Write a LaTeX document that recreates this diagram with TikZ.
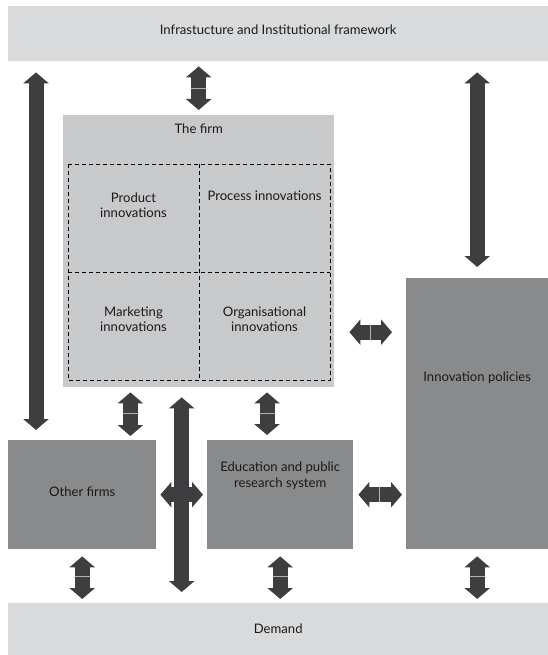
\documentclass[tikz,border=0pt]{standalone}
\usepackage{fontspec}
\setmainfont{Lato}
\usetikzlibrary{positioning,calc,arrows.meta,decorations.markings}
\definecolor{c_frame}{RGB}{217,218,220}
\definecolor{c_firm}{RGB}{200,201,203}
\definecolor{c_actor}{RGB}{137,138,140}
\definecolor{c_arrow}{RGB}{62,62,64}
\tikzset{frame-bar/.style={rectangle, minimum width=540pt, minimum height=55pt, inner sep=0pt, anchor=north west, fill=c_frame},
firm-box/.style={rectangle, minimum width=271pt, minimum height=272pt, inner sep=0pt, anchor=north west, fill=c_firm},
cell-box/.style={rectangle, minimum width=131pt, minimum height=108pt, inner sep=0pt, outer sep=0pt},
cell-line/.style={draw=black, line width=0.9pt, dash pattern=on 4pt off 3pt},
actor-box/.style={rectangle, inner sep=0pt, anchor=north west, fill=c_actor},
label-text/.style={align=center, inner sep=0pt, text=black!90, font=\fontsize{13.1}{15.5}\selectfont},
block-arrow/.style={line width=15pt, draw=c_arrow, {Triangle[width=25pt,length=11pt]}-{Triangle[width=25pt,length=11pt]}},
seam/.style={postaction={decorate, decoration={markings, mark=at position 0.5 with {\draw[-, line width=0.5pt, draw=gray!60, shorten <=0pt, shorten >=0pt] (0pt,-7.5pt) -- (0pt,7.5pt);}}}}}

\begin{document}
\begin{tikzpicture}[x=1pt, y=-1pt]
\useasboundingbox (0,0) rectangle (548,655);
% outer frame
\node (infra) [frame-bar] at (8,6) {};
\node (infratext) [label-text] at ([yshift=4pt]infra.center) {Infrastucture and Institutional framework};
\node (demand) [frame-bar, minimum height=52pt] at (8,603) {};
\node (demandtext) [label-text] at (demand.center) {Demand};
% the firm
\node (firm) [firm-box] at (63,115) {};
\node (firmtitle) [label-text, below=9pt of firm.north] {The firm};
\node (prod) [cell-box, anchor=north west] at (68,164) {};
\node (proc) [cell-box, right=0pt of prod] {};
\node (mark) [cell-box, below=0pt of prod] {};
\node (orga) [cell-box, right=0pt of mark] {};
\draw [cell-line] (prod.north west) rectangle (orga.south east);
\draw [cell-line] (proc.north west) -- (orga.south west);
\draw [cell-line] (mark.north west) -- (orga.north east);
\node (prodtext) [label-text] at ([yshift=13pt]prod.center) {Product\\innovations};
\node (proctext) [label-text] at ([yshift=22pt]proc.center) {Process innovations};
\node (marktext) [label-text] at ([yshift=7pt]mark.center) {Marketing\\innovations};
\node (orgatext) [label-text] at ([yshift=7pt]orga.center) {Organisational\\innovations};
% other actors
\node (others) [actor-box, minimum width=148pt, minimum height=109pt] at (8,440) {};
\node (edu) [actor-box, minimum width=146pt, minimum height=109pt] at (207,440) {};
\node (policy) [actor-box, minimum width=142pt, minimum height=271pt] at (406,278) {};
\node (otherstext) [label-text] at ([yshift=3pt]others.center) {Other firms};
\node (edutext) [label-text] at ([yshift=19pt]edu.center) {Education and public\\research system};
\node (policytext) [label-text] at ([yshift=36pt]policy.center) {Innovation policies};
% lanes for the arrows
\coordinate (lane-left) at ([xshift=28pt]others.north west);
\coordinate (lane-mid) at ($(others.north east)!0.5!(edu.north west)$);
\coordinate (lane-ofirm) at ([xshift=-26pt]others.north east);
\coordinate (lane-efirm) at ([xshift=60pt]edu.north west);
\coordinate (lane-pol) at ([yshift=-81pt]firm.east);
% arrows
\draw [block-arrow, seam, shorten <=5pt, shorten >=5pt] (firm.north) -- (firm.north |- infra.south);
\draw [block-arrow, shorten <=10pt, shorten >=11pt] (lane-left) -- (lane-left |- infra.south);
\draw [block-arrow, shorten <=11pt, shorten >=11pt] (policy.north) -- (policy.north |- infra.south);
\draw [block-arrow, seam, shorten <=15pt, shorten >=14pt] (lane-pol) -- (lane-pol -| policy.west);
\draw [block-arrow, seam, shorten <=4pt, shorten >=5pt] (lane-ofirm) -- (lane-ofirm |- firm.south);
\draw [block-arrow, seam, shorten <=5pt, shorten >=5pt] (lane-efirm) -- (lane-efirm |- firm.south);
\draw [block-arrow, shorten <=10pt, shorten >=11pt] (lane-mid |- firm.south) -- (lane-mid |- demand.north);
\draw [block-arrow, shorten <=4pt, shorten >=4pt] (others.east) -- (edu.west);
\draw [block-arrow, seam, shorten <=5pt, shorten >=4pt] (edu.east) -- (edu.east -| policy.west);
\draw [block-arrow, seam, shorten <=7pt, shorten >=4pt] (others.south) -- (others.south |- demand.north);
\draw [block-arrow, seam, shorten <=7pt, shorten >=4pt] (edu.south) -- (edu.south |- demand.north);
\draw [block-arrow, seam, shorten <=7pt, shorten >=4pt] (policy.south) -- (policy.south |- demand.north);
\end{tikzpicture}
\end{document}
